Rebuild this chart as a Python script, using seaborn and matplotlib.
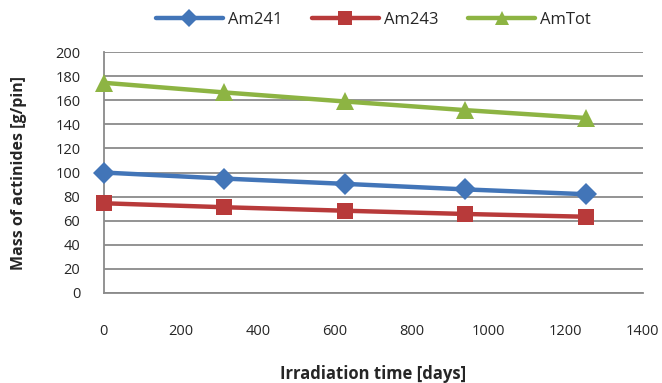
import matplotlib
matplotlib.use("Agg")
import matplotlib.pyplot as plt
import seaborn as sns
import pandas as pd

days = [0, 313, 626, 939, 1252]
am241 = [100, 95, 90.6, 86, 82]
am243 = [74.5, 71.2, 68.3, 65.6, 63.3]
amtot = [174.5, 166.5, 159, 151.8, 145.3]
series_names = ["Am241", "Am243", "AmTot"]
colors = ["#4275B8", "#B83A3A", "#8DB443"]
markers = ["D", "s", "^"]

rows = []
for name, vals in zip(series_names, [am241, am243, amtot]):
    for d, v in zip(days, vals):
        rows.append({"day": d, "mass": v, "series": name})
df = pd.DataFrame(rows)

sns.set_style("white")
plt.rcParams['font.family'] = ['Open Sans', 'DejaVu Sans']

fig = plt.figure(figsize=(6.62, 3.83), dpi=100)
ax = fig.add_axes([0.157, 0.235, 0.814, 0.629])

sns.lineplot(data=df, x="day", y="mass", hue="series", style="series",
             hue_order=series_names, style_order=series_names,
             palette=colors, markers=dict(zip(series_names, markers)),
             dashes=False, linewidth=3.2, markersize=10, markeredgewidth=0,
             ax=ax, legend=True)

msize = {"D": 11.5, "s": 11, "^": 13.5}
for ln in ax.lines:
    m = ln.get_marker()
    if m in msize:
        ln.set_markersize(msize[m])
    ln.set_clip_on(False)

ax.set_xlim(0, 1400)
ax.set_ylim(0, 200)
ax.set_xticks(range(0, 1401, 200))
ax.set_yticks(range(0, 201, 20))
ax.yaxis.grid(True, color="#8a8a8a", linewidth=1.3)
ax.xaxis.grid(False)
ax.set_axisbelow(True)
for s in ["top", "right"]:
    ax.spines[s].set_visible(False)
for s in ["left", "bottom"]:
    ax.spines[s].set_color("#8a8a8a")
    ax.spines[s].set_linewidth(1.3)
    ax.spines[s].set_zorder(0.5)
ax.tick_params(axis="y", direction="inout", length=8, width=1.3, color="#8a8a8a", labelsize=10.5, pad=13)
ax.tick_params(axis="x", direction="out", length=3, width=1.3, color="#8a8a8a", labelsize=10.5, pad=19)
ax.set_xlabel("Irradiation time [days]", fontsize=12, fontweight="bold")
ax.set_ylabel("Mass of actinides [g/pin]", fontsize=11.5, fontweight="bold")
ax.yaxis.set_label_coords(-0.143, 0.5)
ax.xaxis.set_label_coords(0.5, -0.30)

handles, labels = ax.get_legend_handles_labels()
leg = ax.legend(handles, labels, loc="center", bbox_to_anchor=(0.5, 1.135), ncol=3,
                frameon=False, fontsize=12, handlelength=4.0, columnspacing=1.8,
                handletextpad=0.3, borderaxespad=0)
for h in leg.legend_handles:
    h.set_markersize(9.5)
    h.set_linewidth(3.2)

fig.savefig("out.png", dpi=100)
